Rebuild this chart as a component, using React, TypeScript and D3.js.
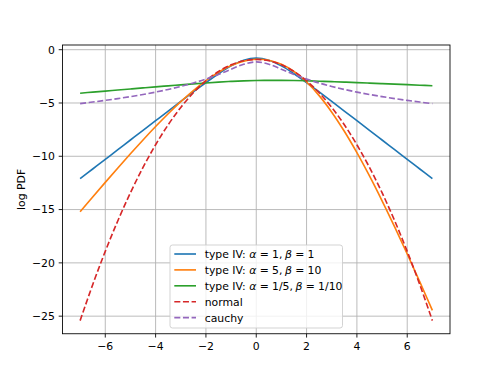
import React from 'react';
import * as d3 from 'd3';

const xs = [-7, -6.5, -6, -5.5, -5, -4.5, -4, -3.5, -3, -2.5, -2, -1.5, -1, -0.5, 0, 0.5, 1, 1.5, 2, 2.5, 3, 3.5, 4, 4.5, 5, 5.5, 6, 6.5, 7];

const typeIV_1_1 = [-12.101, -11.194, -10.287, -9.381, -8.474, -7.567, -6.661, -5.756, -4.855, -3.960, -3.085, -2.253, -1.520, -0.990, -0.791, -0.990, -1.520, -2.253, -3.085, -3.960, -4.855, -5.756, -6.661, -7.567, -8.474, -9.381, -10.287, -11.194, -12.101];
const typeIV_5_10 = [-15.205, -13.819, -12.447, -11.094, -9.765, -8.467, -7.211, -6.009, -4.877, -3.834, -2.904, -2.114, -1.494, -1.079, -0.901, -0.989, -1.367, -2.047, -3.032, -4.310, -5.861, -7.655, -9.661, -11.845, -14.176, -16.625, -19.168, -21.784, -24.458];
const typeIV_fifth_tenth = [-4.081, -3.981, -3.882, -3.782, -3.683, -3.584, -3.486, -3.390, -3.296, -3.205, -3.119, -3.041, -2.975, -2.923, -2.889, -2.873, -2.875, -2.891, -2.919, -2.955, -2.996, -3.040, -3.086, -3.134, -3.183, -3.232, -3.282, -3.331, -3.381];
const normal = [-25.419, -22.044, -18.919, -16.044, -13.419, -11.044, -8.919, -7.044, -5.419, -4.044, -2.919, -2.044, -1.419, -1.044, -0.919, -1.044, -1.419, -2.044, -2.919, -4.044, -5.419, -7.044, -8.919, -11.044, -13.419, -16.044, -18.919, -22.044, -25.419];
const cauchy = [-5.057, -4.912, -4.756, -4.587, -4.403, -4.201, -3.978, -3.729, -3.447, -3.126, -2.754, -2.323, -1.838, -1.368, -1.145, -1.368, -1.838, -2.323, -2.754, -3.126, -3.447, -3.729, -3.978, -4.201, -4.403, -4.587, -4.756, -4.912, -5.057];

const xTicks = [-6, -4, -2, 0, 2, 4, 6];
const yTicks = [0, -5, -10, -15, -20, -25];

type Seg = { t: string; it?: boolean; dx?: number };
const mathLabel = (a: string, b: string): Seg[] => [
  { t: 'type IV:' },
  { t: 'α', it: true, dx: 3.45 },
  { t: '=', dx: 3.3 },
  { t: a + ',', dx: 3.3 },
  { t: 'β', it: true, dx: 2.5 },
  { t: '=', dx: 3.3 },
  { t: b, dx: 3.3 },
];
const seriesDefs: { values: number[]; color: string; dashed: boolean; label: Seg[] }[] = [
  { values: typeIV_1_1, color: '#1f77b4', dashed: false, label: mathLabel('1', '1') },
  { values: typeIV_5_10, color: '#ff7f0e', dashed: false, label: mathLabel('5', '10') },
  { values: typeIV_fifth_tenth, color: '#2ca02c', dashed: false, label: mathLabel('1/5', '1/10') },
  { values: normal, color: '#d62728', dashed: true, label: [{ t: 'normal' }] },
  { values: cauchy, color: '#9467bd', dashed: true, label: [{ t: 'cauchy' }] },
];

const W = 500, H = 376;
const L = 62.5, R = 450, T = 45, B = 333.75;
const FS = 10.85;
const font = '"DejaVu Sans", sans-serif';
const fmt = (v: number) => (v < 0 ? '\u2212' + Math.abs(v) : String(v));

export default function App() {
  const xMin = d3.min(xs)!, xMax = d3.max(xs)!;
  const all = seriesDefs.flatMap((s) => s.values);
  const yMin = d3.min(all)!, yMax = d3.max(all)!;
  const xPad = (xMax - xMin) * 0.05, yPad = (yMax - yMin) * 0.05;
  const x = d3.scaleLinear().domain([xMin - xPad, xMax + xPad]).range([L, R]);
  const y = d3.scaleLinear().domain([yMin - yPad, yMax + yPad]).range([B, T]);
  const line = d3.line<number>().x((_, i) => x(xs[i])).y((d) => y(d)).curve(d3.curveCatmullRom.alpha(0.5));

  const lw = 1.63;
  const dash = `${(3.7 * lw).toFixed(2)},${(1.6 * lw).toFixed(2)}`;

  const legX = 170, legY = 245, legW = 172.5, legH = 83;
  const rowY0 = 254, rowStep = 15.9;

  return (
    <svg width={W} height={H} style={{ position: 'absolute', left: 0, top: 0 }} fontFamily={font}>
      <rect width={W} height={H} fill="#fff" />
      {xTicks.map((t) => (
        <line key={'gx' + t} x1={x(t)} x2={x(t)} y1={T} y2={B} stroke="#b0b0b0" strokeWidth={0.87} />
      ))}
      {yTicks.map((t) => (
        <line key={'gy' + t} x1={L} x2={R} y1={y(t)} y2={y(t)} stroke="#b0b0b0" strokeWidth={0.87} />
      ))}
      {seriesDefs.map((s, i) => (
        <path key={i} d={line(s.values)!} fill="none" stroke={s.color} strokeWidth={lw} strokeDasharray={s.dashed ? dash : undefined} />
      ))}
      <rect x={L} y={T} width={R - L} height={B - T} fill="none" stroke="#000" strokeWidth={0.87} />
      {xTicks.map((t) => (
        <g key={'xt' + t}>
          <line x1={x(t)} x2={x(t)} y1={B} y2={B + 3.8} stroke="#000" strokeWidth={0.87} />
          <text x={x(t)} y={B + 7.6} dy="0.76em" textAnchor="middle" fontSize={FS} fill="#000">{fmt(t)}</text>
        </g>
      ))}
      {yTicks.map((t) => (
        <g key={'yt' + t}>
          <line x1={L} x2={L - 3.8} y1={y(t)} y2={y(t)} stroke="#000" strokeWidth={0.87} />
          <text x={L - 7.6} y={y(t)} dy="0.36em" textAnchor="end" fontSize={FS} fill="#000">{fmt(t)}</text>
        </g>
      ))}
      <text transform={`translate(25,${(T + B) / 2}) rotate(-90)`} textAnchor="middle" fontSize={FS} fill="#000">log PDF</text>
      <rect x={legX} y={legY} width={legW} height={legH} rx={2.5} fill="#fff" fillOpacity={0.8} stroke="#cccccc" strokeWidth={0.87} />
      {seriesDefs.map((s, i) => {
        const cy = rowY0 + i * rowStep;
        return (
          <g key={'lg' + i}>
            <line x1={174.3} x2={196} y1={cy} y2={cy} stroke={s.color} strokeWidth={lw} strokeDasharray={s.dashed ? dash : undefined} />
            <text x={204.7} y={cy} dy="0.36em" fontSize={FS} fill="#000">
              {s.label.map((seg, j) => (
                <tspan key={j} dx={seg.dx} fontStyle={seg.it ? 'italic' : undefined}>{seg.t}</tspan>
              ))}
            </text>
          </g>
        );
      })}
    </svg>
  );
}
